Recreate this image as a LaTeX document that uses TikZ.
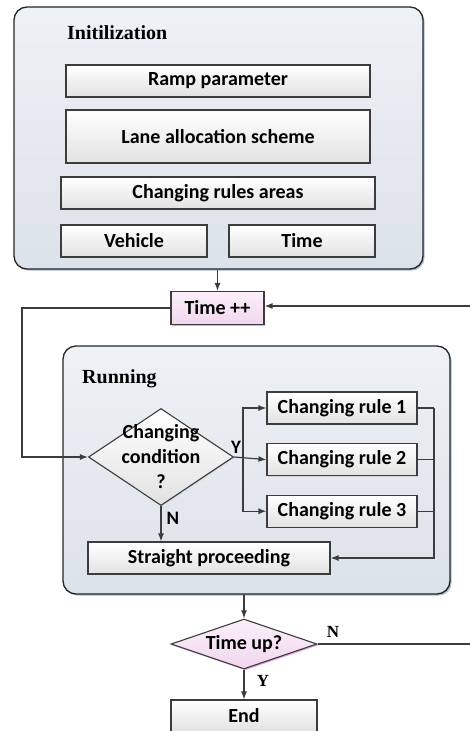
\documentclass[tikz,border=0pt]{standalone}
\usepackage{fontspec}
\setmainfont{Liberation Serif}
\newfontfamily\calib{Carlito}
\usepackage{tikz}
\usetikzlibrary{positioning}
\usetikzlibrary{calc}
\usetikzlibrary{shapes.geometric}
\usetikzlibrary{arrows.meta}
\usetikzlibrary{shadows}

\definecolor{linegray}{HTML}{3C3C3C}
\definecolor{paneltop}{HTML}{EEF1F5}
\definecolor{panelbot}{HTML}{DCE2E9}
\definecolor{panelshade}{HTML}{A9BCD3}
\definecolor{boxbot}{HTML}{E2E2E2}
\definecolor{pinktop}{HTML}{FBEFFA}
\definecolor{pinkbot}{HTML}{F1D6EE}
\definecolor{pinkshade}{HTML}{E8A2E3}

\tikzset{
	panel/.style={draw=black!85, line width=1.3pt, rounded corners=13pt,
		top color=paneltop, bottom color=panelbot,
		drop shadow={shadow xshift=1.6pt, shadow yshift=-1.6pt, fill=panelshade, opacity=1}},
	stepbox/.style={draw=linegray, line width=1.1pt, top color=white, bottom color=boxbot,
		inner sep=0pt, font=\calib\bfseries\fontsize{20}{24}\selectfont,
		drop shadow={shadow xshift=1pt, shadow yshift=-1pt, fill=black!18, opacity=1}},
	pinkbox/.style={stepbox, top color=pinktop, bottom color=pinkbot,
		drop shadow={shadow xshift=1.3pt, shadow yshift=-1.3pt, fill=pinkshade, opacity=1}},
	flow/.style={draw=linegray, line width=1.2pt, -{Latex[length=8pt,width=6pt]}},
	wire/.style={draw=linegray, line width=1.2pt},
	heading/.style={font=\bfseries\fontsize{20}{24}\selectfont, anchor=west, inner sep=0pt},
	yn/.style={font=\calib\bfseries\fontsize{19}{22}\selectfont, inner sep=0pt},
	ynserif/.style={font=\bfseries\fontsize{17}{20}\selectfont, inner sep=0pt}
}

\begin{document}
\begin{tikzpicture}[x=1pt, y=-1pt]
	\useasboundingbox (0,0) rectangle (470,731);
	% Draw the nodes
	% Initialisation block
	\node [panel, minimum width=409pt, minimum height=262pt] (init) at (218.5,138) {};
	\node [heading] (initlbl) at (67,33) {Initilization};
	\node [stepbox, minimum width=304pt, minimum height=32pt] (ramp) at (218,81) {Ramp parameter};
	\node [stepbox, minimum width=304pt, minimum height=53pt] (lane) at (218,136.5) {Lane allocation scheme};
	\node [stepbox, minimum width=314pt, minimum height=32pt] (areas) at (218,193) {Changing rules areas};
	\node [stepbox, minimum width=146pt, minimum height=32pt] (vehicle) at (134,241) {Vehicle};
	\node [stepbox, minimum width=146pt, minimum height=32pt] (time) at (302,241) {Time};
	% Clock step
	\node [pinkbox, minimum width=93pt, minimum height=33pt] (timeinc) at (217.5,308) {Time ++};
	% Running block
	\node [panel, minimum width=387pt, minimum height=248pt] (running) at (256.5,470) {};
	\node [heading] (runlbl) at (82,379) {Running};
	\node [stepbox, diamond, minimum width=145pt, minimum height=97pt] (cond) at (161,457) {};
	\node [align=center, font=\calib\bfseries\fontsize{20}{25}\selectfont, inner sep=0pt] (condtxt) at (cond) {Changing\\condition\\?};
	\node [stepbox, minimum width=150pt, minimum height=32pt] (rule1) at (342,408) {Changing rule 1};
	\node [stepbox, minimum width=150pt, minimum height=32pt, below=18.5pt of rule1] (rule2) {Changing rule 2};
	\node [stepbox, minimum width=150pt, minimum height=32pt, below=18.5pt of rule2] (rule3) {Changing rule 3};
	\node [stepbox, minimum width=242pt, minimum height=32pt] (straight) at (209,558) {Straight proceeding};
	% End test
	\node [pinkbox, diamond, aspect=2.9, minimum width=146pt, minimum height=50pt] (timeup) at (244,644) {Time up?};
	\node [stepbox, minimum width=146pt, minimum height=32pt] (end) at (244,716) {End};

	% Bus lines
	\coordinate (leftbus) at (22,0);
	\coordinate (ybus) at (243,0);
	\coordinate (rbus) at (434,0);
	\coordinate (edge) at (470,0);

	% Draw the paths between nodes
	\draw [flow] (init.south -| timeinc.north) -- (timeinc.north);
	\draw [flow] (timeinc.west) -- (timeinc.west -| leftbus) |- (cond.west);
	\draw [flow] (timeinc.east -| edge) ++(0,-2) -- ($(timeinc.east)+(0,-2)$);
	\draw [flow] (cond.east) -- (rule2.west);
	\draw [flow] (cond.east -| ybus) |- (rule1.west);
	\draw [flow] (cond.east -| ybus) |- (rule3.west);
	\draw [wire] (rule1.east) -- (rule1.east -| rbus);
	\draw [wire] (rule2.east) -- (rule2.east -| rbus);
	\draw [wire] (rule3.east) -- (rule3.east -| rbus);
	\draw [flow] (rule1.east -| rbus) |- (straight.east);
	\draw [flow] (cond.south) -- (cond.south |- straight.north);
	\draw [flow] (running.south -| timeup.north) -- (timeup.north);
	\draw [wire] (timeup.east) -- (timeup.east -| edge);
	\draw [flow] (timeup.south) -- (end.north);

	% Branch labels
	\node [yn] (ylbl) at (236,447) {Y};
	\node [yn] (nlbl) at (173,518) {N};
	\node [ynserif] (nup) at (333,632) {N};
	\node [ynserif] (yup) at (263,681) {Y};
\end{tikzpicture}
\end{document}
